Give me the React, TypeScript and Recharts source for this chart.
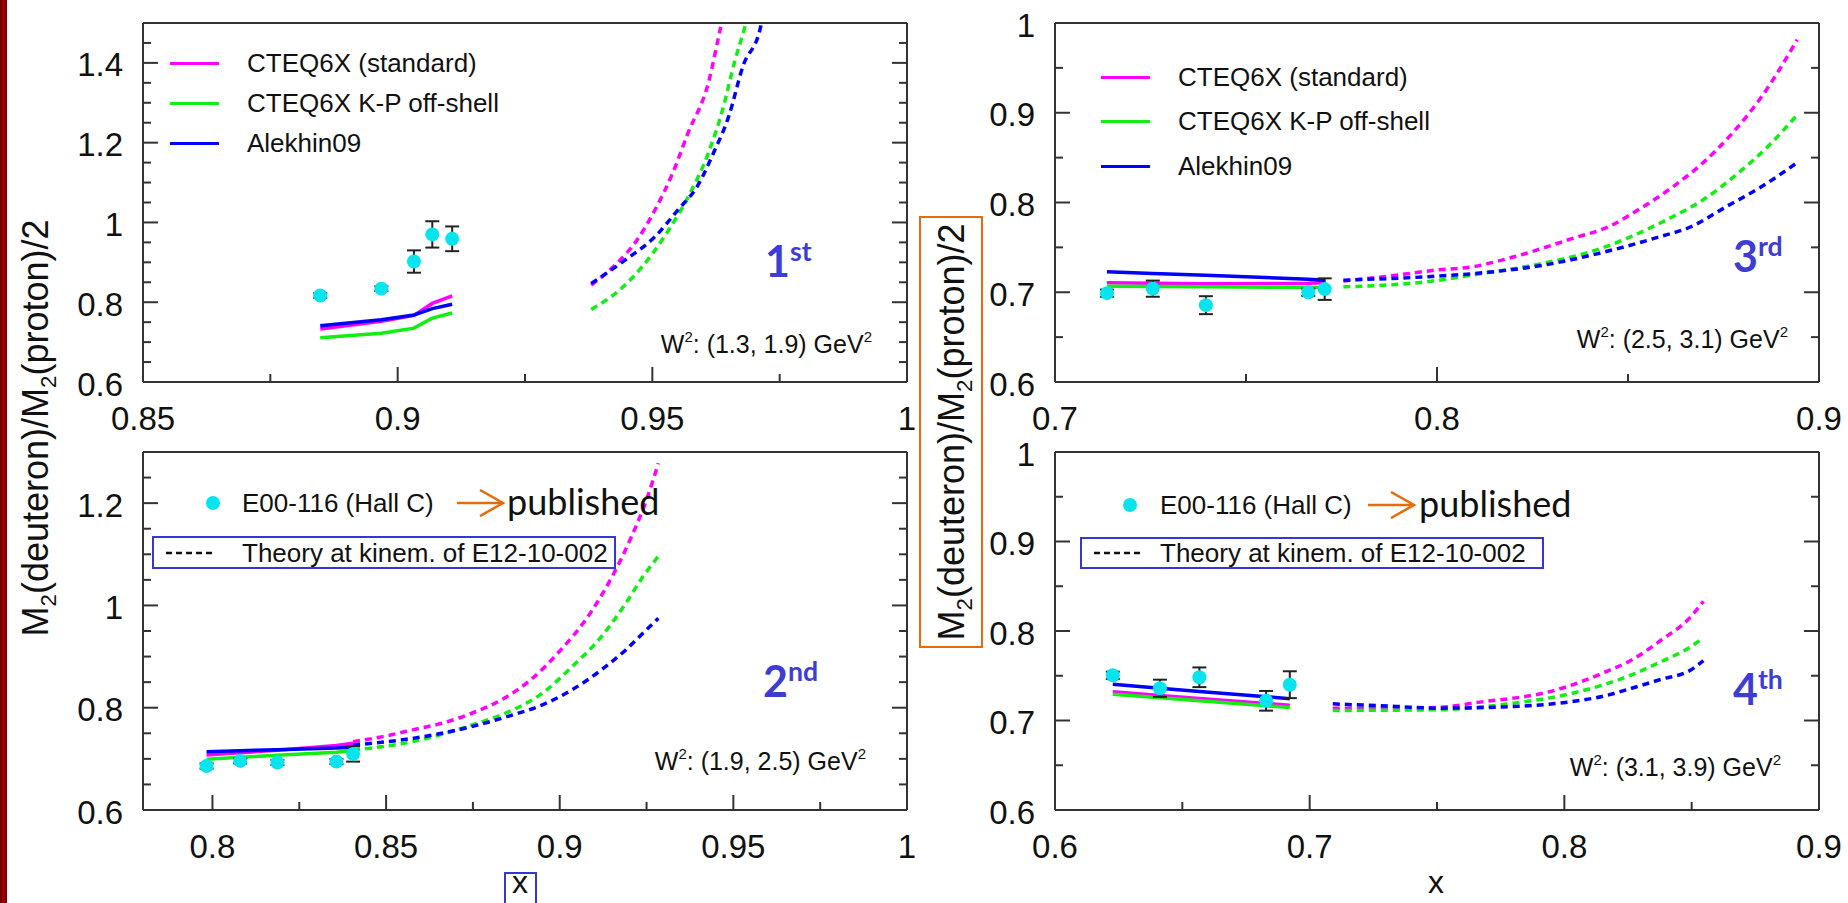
import React from "react";
import { ComposedChart, ErrorBar, Line, Scatter, XAxis, YAxis } from "recharts";

const MAGENTA = "#ff00ff";
const GREEN = "#11ee11";
const BLUE = "#0000ff";
const CYAN = "#08e4ee";
const FRAME = { stroke: "#333", strokeWidth: 2 };
const ORDINAL = "#3d3dd4";
const BOX_BLUE = "#3535d8";
const ORANGE = "#e46c0a";
const SANS = '"Liberation Sans", Arial, sans-serif';

// ---- panel 1: W2 (1.3, 1.9)
const p1XTicks = [0.85, 0.875, 0.9, 0.925, 0.95, 0.975, 1];
const p1XLabels = [0.85, 0.9, 0.95, 1];
const p1YTicks = [0.6, 0.65, 0.7, 0.75, 0.8, 0.85, 0.9, 0.95, 1, 1.05, 1.1, 1.15, 1.2, 1.25, 1.3, 1.35, 1.4, 1.45, 1.5];
const p1YLabels = [0.6, 0.8, 1, 1.2, 1.4];
const p1PointX = [0.8848, 0.8968, 0.9032, 0.9068, 0.9107];
const p1PointY = [0.817, 0.834, 0.902, 0.97, 0.959];
const p1PointErr = [0.006, 0.006, 0.028, 0.033, 0.031];
const p1SolidMagenta = [0.733, 0.752, 0.767, 0.797, 0.816];
const p1SolidGreen = [0.711, 0.722, 0.735, 0.76, 0.773];
const p1SolidBlue = [0.741, 0.756, 0.768, 0.784, 0.795];
const p1DashMagentaX = [0.938, 0.943, 0.947, 0.9505, 0.954, 0.957, 0.961, 0.9634, 0.9645];
const p1DashMagentaY = [0.843, 0.897, 0.956, 1.031, 1.124, 1.224, 1.35, 1.488, 1.55];
const p1DashGreenX = [0.938, 0.9435, 0.948, 0.9528, 0.9574, 0.961, 0.9638, 0.9661, 0.9684, 0.9695];
const p1DashGreenY = [0.782, 0.83, 0.889, 0.973, 1.073, 1.174, 1.283, 1.4, 1.5, 1.55];
const p1DashBlueX = [0.938, 0.9447, 0.9505, 0.955, 0.9588, 0.962, 0.965, 0.9678, 0.9713, 0.9722];
const p1DashBlueY = [0.847, 0.906, 0.964, 1.031, 1.09, 1.174, 1.266, 1.392, 1.492, 1.55];

// ---- panel 2: W2 (1.9, 2.5)
const p2XTicks = [0.8, 0.825, 0.85, 0.875, 0.9, 0.925, 0.95, 0.975, 1];
const p2XLabels = [0.8, 0.85, 0.9, 0.95, 1];
const p2YTicks = [0.6, 0.65, 0.7, 0.75, 0.8, 0.85, 0.9, 0.95, 1, 1.05, 1.1, 1.15, 1.2, 1.25, 1.3];
const p2YLabels = [0.6, 0.8, 1, 1.2];
const p2PointX = [0.7983, 0.808, 0.8187, 0.8357, 0.8405];
const p2PointY = [0.686, 0.696, 0.693, 0.6946, 0.7096];
const p2PointErr = [0.005, 0.005, 0.005, 0.005, 0.015];
const p2SolidMagenta = [0.7076, 0.712, 0.717, 0.726, 0.7305];
const p2SolidGreen = [0.699, 0.703, 0.707, 0.713, 0.716];
const p2SolidBlue = [0.714, 0.716, 0.718, 0.721, 0.7226];
const p2DashMagentaX = [0.8405, 0.8491, 0.8576, 0.8661, 0.8746, 0.8831, 0.8916, 0.9003, 0.9088, 0.9156, 0.9207, 0.925, 0.9284];
const p2DashMagentaY = [0.7337, 0.7435, 0.7566, 0.7696, 0.789, 0.815, 0.8544, 0.913, 0.985, 1.063, 1.135, 1.2067, 1.278];
const p2DashGreenX = [0.8405, 0.8576, 0.8746, 0.8865, 0.895, 0.9035, 0.912, 0.919, 0.924, 0.9284];
const p2DashGreenY = [0.7174, 0.7337, 0.766, 0.7957, 0.8283, 0.88, 0.939, 1.004, 1.0566, 1.096];
const p2DashBlueX = [0.8405, 0.8576, 0.8746, 0.8865, 0.895, 0.9035, 0.912, 0.919, 0.924, 0.9284];
const p2DashBlueY = [0.7272, 0.74, 0.763, 0.786, 0.8055, 0.8348, 0.874, 0.913, 0.946, 0.975];

// ---- panel 3: W2 (2.5, 3.1)
const p3XTicks = [0.7, 0.75, 0.8, 0.85, 0.9];
const p3XLabels = [0.7, 0.8, 0.9];
const p3YTicks = [0.6, 0.65, 0.7, 0.75, 0.8, 0.85, 0.9, 0.95, 1];
const p3YLabels = [0.6, 0.7, 0.8, 0.9, 1];
const p3PointX = [0.7136, 0.7256, 0.7395, 0.7663, 0.7706];
const p3PointY = [0.699, 0.704, 0.6856, 0.7, 0.7035];
const p3PointErr = [0.004, 0.009, 0.01, 0.004, 0.012];
const p3SolidMagenta = [0.7105, 0.71, 0.7095, 0.71, 0.7105];
const p3SolidGreen = [0.7068, 0.7065, 0.706, 0.7055, 0.7053];
const p3SolidBlue = [0.7228, 0.721, 0.719, 0.7145, 0.7135];
const p3DashMagentaX = [0.7755, 0.7893, 0.7997, 0.8093, 0.8202, 0.8355, 0.8449, 0.8526, 0.8618, 0.8695, 0.8773, 0.885, 0.8943];
const p3DashMagentaY = [0.7124, 0.719, 0.7247, 0.7284, 0.7395, 0.76, 0.773, 0.7916, 0.8177, 0.8437, 0.8772, 0.918, 0.9814];
const p3DashGreenX = [0.7755, 0.797, 0.812, 0.8275, 0.843, 0.8508, 0.86, 0.8696, 0.8788, 0.8866, 0.8943];
const p3DashGreenY = [0.706, 0.7116, 0.721, 0.732, 0.749, 0.762, 0.7805, 0.8028, 0.8326, 0.8623, 0.8977];
const p3DashBlueX = [0.7755, 0.797, 0.812, 0.8279, 0.843, 0.8584, 0.8665, 0.8757, 0.885, 0.8943];
const p3DashBlueY = [0.7135, 0.7172, 0.7217, 0.7302, 0.744, 0.762, 0.773, 0.7953, 0.8177, 0.8445];

// ---- panel 4: W2 (3.1, 3.9)
const p4XTicks = [0.6, 0.65, 0.7, 0.75, 0.8, 0.85, 0.9];
const p4XLabels = [0.6, 0.7, 0.8, 0.9];
const p4YTicks = p3YTicks;
const p4YLabels = p3YLabels;
const p4PointX = [0.6227, 0.6412, 0.6567, 0.6829, 0.6922];
const p4PointY = [0.7505, 0.736, 0.7483, 0.722, 0.74];
const p4PointErr = [0.004, 0.0096, 0.011, 0.011, 0.015];
const p4SolidMagenta = [0.732, 0.728, 0.7245, 0.719, 0.717];
const p4SolidGreen = [0.7294, 0.7255, 0.722, 0.7165, 0.7146];
const p4SolidBlue = [0.7405, 0.736, 0.7325, 0.7265, 0.7243];
const p4DashMagentaX = [0.7091, 0.7339, 0.75, 0.7686, 0.7802, 0.7917, 0.8032, 0.8148, 0.8264, 0.838, 0.8496, 0.8546];
const p4DashMagentaY = [0.7138, 0.7138, 0.7146, 0.7212, 0.725, 0.7305, 0.7398, 0.7527, 0.7676, 0.7898, 0.8158, 0.8332];
const p4DashGreenX = [0.7091, 0.75, 0.7802, 0.8032, 0.8264, 0.838, 0.8496, 0.8546];
const p4DashGreenY = [0.7112, 0.712, 0.7194, 0.7305, 0.751, 0.7658, 0.7824, 0.7925];
const p4DashBlueX = [0.7091, 0.7339, 0.75, 0.7802, 0.8032, 0.8148, 0.8264, 0.838, 0.8496, 0.8546];
const p4DashBlueY = [0.7186, 0.7157, 0.7138, 0.7157, 0.7212, 0.7268, 0.736, 0.746, 0.7564, 0.7668];

const legendNames = ["CTEQ6X (standard)", "CTEQ6X K-P off-shell", "Alekhin09"];
const legendColors = [MAGENTA, GREEN, BLUE];

const toPts = (xs: number[], ys: number[], errs?: number[]) =>
  xs.map((x, i) => ({ x, y: ys[i], err: errs ? errs[i] : 0 }));

const fmt = (v: number) => String(+v.toFixed(3));

const makeTick = (side: string, labels: number[]) => (props: any) => {
  const { x, y, payload } = props;
  const v = payload.value;
  const major = labels.some((l) => Math.abs(l - v) < 1e-6);
  const len = major ? 15 : 8;
  const st = { stroke: "#333", strokeWidth: 2 };
  let line = null;
  let label = null;
  if (side === "bottom") {
    line = <line x1={x} y1={y} x2={x} y2={y - len} {...st} />;
    if (major)
      label = (
        <text x={x} y={y + 36} textAnchor="middle" dominantBaseline="central" fontSize={33} fontFamily={SANS} fill="#111">
          {fmt(v)}
        </text>
      );
  } else if (side === "top") {
    line = <line x1={x} y1={y} x2={x} y2={y + len} {...st} />;
  } else if (side === "left") {
    line = <line x1={x} y1={y} x2={x + len} y2={y} {...st} />;
    if (major)
      label = (
        <text x={x - 20} y={y + 2} textAnchor="end" dominantBaseline="central" fontSize={33} fontFamily={SANS} fill="#111">
          {fmt(v)}
        </text>
      );
  } else {
    line = <line x1={x} y1={y} x2={x - len} y2={y} {...st} />;
  }
  return (
    <g>
      {line}
      {label}
    </g>
  );
};

type Series = { xs: number[]; ys: number[]; color: string };

type PanelProps = {
  left: number;
  top: number;
  width: number;
  height: number;
  xDomain: [number, number];
  yDomain: [number, number];
  xTicks: number[];
  xLabels: number[];
  yTicks: number[];
  yLabels: number[];
  pointX: number[];
  pointY: number[];
  pointErr: number[];
  solid: Series[];
  dashed: Series[];
};

function Panel(p: PanelProps) {
  const L = 80;
  const T = 10;
  const R = 10;
  const B = 70;
  const MT = 22; // extra room above so the top tick label is not cut
  const MR = 34; // extra room right for the last x label
  return (
    <div style={{ position: "absolute", left: p.left - L, top: p.top - T - MT }}>
      <ComposedChart width={p.width + L + R + MR} height={p.height + T + B + MT} margin={{ top: MT, right: MR, bottom: 0, left: 0 }}>
        <XAxis dataKey="x" type="number" domain={p.xDomain} allowDataOverflow ticks={p.xTicks} interval={0} height={B}
          tickSize={0} tickMargin={0} tickLine={false} axisLine={FRAME} tick={makeTick("bottom", p.xLabels)} />
        <XAxis xAxisId="top" orientation="top" type="number" domain={p.xDomain} allowDataOverflow ticks={p.xTicks} interval={0}
          height={T} tickSize={0} tickMargin={0} tickLine={false} axisLine={FRAME} tick={makeTick("top", p.xLabels)} />
        <YAxis type="number" domain={p.yDomain} allowDataOverflow ticks={p.yTicks} interval={0} width={L}
          tickSize={0} tickMargin={0} tickLine={false} axisLine={FRAME} tick={makeTick("left", p.yLabels)} />
        <YAxis yAxisId="right" orientation="right" type="number" domain={p.yDomain} allowDataOverflow ticks={p.yTicks} interval={0}
          width={R} tickSize={0} tickMargin={0} tickLine={false} axisLine={FRAME} tick={makeTick("right", p.yLabels)} />
        {p.solid.map((s, i) => (
          <Line key={"s" + i} data={toPts(s.xs, s.ys)} dataKey="y" type="linear" stroke={s.color} strokeWidth={3.5}
            dot={false} activeDot={false} isAnimationActive={false} />
        ))}
        {p.dashed.map((s, i) => (
          <Line key={"d" + i} data={toPts(s.xs, s.ys)} dataKey="y" type="monotone" stroke={s.color} strokeWidth={3.5}
            strokeDasharray="7 5" dot={false} activeDot={false} isAnimationActive={false} />
        ))}
        <Scatter data={toPts(p.pointX, p.pointY, p.pointErr)} dataKey="y" isAnimationActive={false}
          shape={(s: any) => <ellipse cx={s.cx} cy={s.cy} rx={7} ry={7} fill={CYAN} />}>
          <ErrorBar dataKey="err" direction="y" width={7} stroke="#222" strokeWidth={2} />
        </Scatter>
      </ComposedChart>
    </div>
  );
}

function Txt(props: { x: number; y: number; anchor?: string; size: number; style?: React.CSSProperties; children: React.ReactNode }) {
  const tx = props.anchor === "end" ? "-100%" : props.anchor === "middle" ? "-50%" : "0";
  return (
    <div style={{ position: "absolute", left: props.x, top: props.y, transform: `translate(${tx},-50%)`, fontSize: props.size,
      lineHeight: 1, whiteSpace: "nowrap", ...props.style }}>
      {props.children}
    </div>
  );
}

const sup = (t: string) => <span style={{ fontSize: "0.6em", position: "relative", top: "-0.75em" }}>{t}</span>;
const sub = (t: string) => <span style={{ fontSize: "0.62em", position: "relative", top: "0.35em" }}>{t}</span>;

function Ordinal({ x, y, n, s }: { x: number; y: number; n: string; s: string }) {
  return (
    <Txt x={x} y={y} size={43} style={{ fontFamily: "Lato, sans-serif", fontWeight: 700, color: ORDINAL }}>
      {n}
      <span style={{ fontSize: "0.62em", position: "relative", top: "-0.6em" }}>{s}</span>
    </Txt>
  );
}

function Legend3({ lineX, textX, ys }: { lineX: number; textX: number; ys: number[] }) {
  return (
    <>
      {legendNames.map((name, i) => (
        <React.Fragment key={name}>
          <div style={{ position: "absolute", left: lineX, top: ys[i] - 1.5, width: 49, height: 3, background: legendColors[i] }} />
          <Txt x={textX} y={ys[i]} size={26}>{name}</Txt>
        </React.Fragment>
      ))}
    </>
  );
}

function DataLegend({ dotX, y, textX, arrowX, pubX, boxL, boxT, boxR, boxB }: any) {
  return (
    <>
      <div style={{ position: "absolute", left: dotX - 7, top: y - 7, width: 14, height: 14, borderRadius: 7, background: CYAN }} />
      <Txt x={textX} y={y} size={26}>E00-116 (Hall C)</Txt>
      <svg style={{ position: "absolute", left: arrowX, top: y - 14 }} width={50} height={28}>
        <line x1={1} y1={14} x2={47} y2={14} stroke={ORANGE} strokeWidth={2.5} />
        <polyline points="24,1 47,14 24,27" fill="none" stroke={ORANGE} strokeWidth={2.5} />
      </svg>
      <Txt x={pubX} y={y - 2} size={36} style={{ fontFamily: "Lato, sans-serif" }}>published</Txt>
      <div style={{ position: "absolute", left: boxL, top: boxT, width: boxR - boxL, height: boxB - boxT, border: `2px solid ${BOX_BLUE}`, boxSizing: "border-box" }} />
      <svg style={{ position: "absolute", left: boxL + 14, top: (boxT + boxB) / 2 - 3 }} width={48} height={6}>
        <line x1={0} y1={3} x2={48} y2={3} stroke="#111" strokeWidth={2.5} strokeDasharray="6 4" />
      </svg>
      <Txt x={textX} y={(boxT + boxB) / 2} size={26}>Theory at kinem. of E12-10-002</Txt>
    </>
  );
}

const yTitle = (
  <>
    M{sub("2")}(deuteron)/M{sub("2")}(proton)/2
  </>
);

export default function App() {
  return (
    <div style={{ position: "absolute", left: 0, top: 0, width: 1848, height: 903, background: "#fff", overflow: "hidden", fontFamily: SANS, color: "#111" }}>
      <div style={{ position: "absolute", left: 0, top: 0, width: 7, height: 903, background: "linear-gradient(to right, #5a0000, #b00000, #6a0000)" }} />

      <Panel left={143} top={23} width={764} height={359} xDomain={[0.85, 1]} yDomain={[0.6, 1.5]}
        xTicks={p1XTicks} xLabels={p1XLabels} yTicks={p1YTicks} yLabels={p1YLabels}
        pointX={p1PointX} pointY={p1PointY} pointErr={p1PointErr}
        solid={[
          { xs: p1PointX, ys: p1SolidMagenta, color: MAGENTA },
          { xs: p1PointX, ys: p1SolidGreen, color: GREEN },
          { xs: p1PointX, ys: p1SolidBlue, color: BLUE },
        ]}
        dashed={[
          { xs: p1DashMagentaX, ys: p1DashMagentaY, color: MAGENTA },
          { xs: p1DashGreenX, ys: p1DashGreenY, color: GREEN },
          { xs: p1DashBlueX, ys: p1DashBlueY, color: BLUE },
        ]} />

      <Panel left={1055} top={23} width={764} height={359} xDomain={[0.7, 0.9]} yDomain={[0.6, 1]}
        xTicks={p3XTicks} xLabels={p3XLabels} yTicks={p3YTicks} yLabels={p3YLabels}
        pointX={p3PointX} pointY={p3PointY} pointErr={p3PointErr}
        solid={[
          { xs: p3PointX, ys: p3SolidMagenta, color: MAGENTA },
          { xs: p3PointX, ys: p3SolidGreen, color: GREEN },
          { xs: p3PointX, ys: p3SolidBlue, color: BLUE },
        ]}
        dashed={[
          { xs: p3DashMagentaX, ys: p3DashMagentaY, color: MAGENTA },
          { xs: p3DashGreenX, ys: p3DashGreenY, color: GREEN },
          { xs: p3DashBlueX, ys: p3DashBlueY, color: BLUE },
        ]} />

      <Panel left={143} top={452} width={764} height={358} xDomain={[0.78, 1]} yDomain={[0.6, 1.3]}
        xTicks={p2XTicks} xLabels={p2XLabels} yTicks={p2YTicks} yLabels={p2YLabels}
        pointX={p2PointX} pointY={p2PointY} pointErr={p2PointErr}
        solid={[
          { xs: p2PointX, ys: p2SolidMagenta, color: MAGENTA },
          { xs: p2PointX, ys: p2SolidGreen, color: GREEN },
          { xs: p2PointX, ys: p2SolidBlue, color: BLUE },
        ]}
        dashed={[
          { xs: p2DashMagentaX, ys: p2DashMagentaY, color: MAGENTA },
          { xs: p2DashGreenX, ys: p2DashGreenY, color: GREEN },
          { xs: p2DashBlueX, ys: p2DashBlueY, color: BLUE },
        ]} />

      <Panel left={1055} top={452} width={764} height={358} xDomain={[0.6, 0.9]} yDomain={[0.6, 1]}
        xTicks={p4XTicks} xLabels={p4XLabels} yTicks={p4YTicks} yLabels={p4YLabels}
        pointX={p4PointX} pointY={p4PointY} pointErr={p4PointErr}
        solid={[
          { xs: p4PointX, ys: p4SolidMagenta, color: MAGENTA },
          { xs: p4PointX, ys: p4SolidGreen, color: GREEN },
          { xs: p4PointX, ys: p4SolidBlue, color: BLUE },
        ]}
        dashed={[
          { xs: p4DashMagentaX, ys: p4DashMagentaY, color: MAGENTA },
          { xs: p4DashGreenX, ys: p4DashGreenY, color: GREEN },
          { xs: p4DashBlueX, ys: p4DashBlueY, color: BLUE },
        ]} />

      {/* legends */}
      <Legend3 lineX={170} textX={247} ys={[63, 103, 143]} />
      <Legend3 lineX={1101} textX={1178} ys={[77, 121, 166]} />
      <DataLegend dotX={213} y={503} textX={242} arrowX={456} pubX={507} boxL={152} boxT={536} boxR={616} boxB={569} />
      <DataLegend dotX={1130} y={505} textX={1160} arrowX={1367} pubX={1419} boxL={1080} boxT={537} boxR={1544} boxB={569} />

      {/* W2 ranges */}
      <Txt x={872} y={344} anchor="end" size={25}>W{sup("2")}: (1.3, 1.9) GeV{sup("2")}</Txt>
      <Txt x={1788} y={339} anchor="end" size={25}>W{sup("2")}: (2.5, 3.1) GeV{sup("2")}</Txt>
      <Txt x={866} y={761} anchor="end" size={25}>W{sup("2")}: (1.9, 2.5) GeV{sup("2")}</Txt>
      <Txt x={1781} y={767} anchor="end" size={25}>W{sup("2")}: (3.1, 3.9) GeV{sup("2")}</Txt>

      <Ordinal x={765} y={260} n="1" s="st" />
      <Ordinal x={1733} y={255} n="3" s="rd" />
      <Ordinal x={763} y={680} n="2" s="nd" />
      <Ordinal x={1733} y={688} n="4" s="th" />

      {/* axis titles */}
      <div style={{ position: "absolute", left: 36, top: 428, transform: "translate(-50%,-50%) rotate(-90deg)", fontSize: 36, lineHeight: 1, whiteSpace: "nowrap" }}>
        {yTitle}
      </div>
      <div style={{ position: "absolute", left: 919, top: 216, width: 64, height: 432, border: `2px solid ${ORANGE}`, boxSizing: "border-box" }} />
      <div style={{ position: "absolute", left: 952, top: 432, transform: "translate(-50%,-50%) rotate(-90deg)", fontSize: 36, lineHeight: 1, whiteSpace: "nowrap" }}>
        {yTitle}
      </div>
      <Txt x={520} y={882} anchor="middle" size={32}>x</Txt>
      <div style={{ position: "absolute", left: 504, top: 872, width: 33, height: 40, border: `2px solid ${BOX_BLUE}`, boxSizing: "border-box" }} />
      <Txt x={1436} y={882} anchor="middle" size={32}>x</Txt>
    </div>
  );
}
